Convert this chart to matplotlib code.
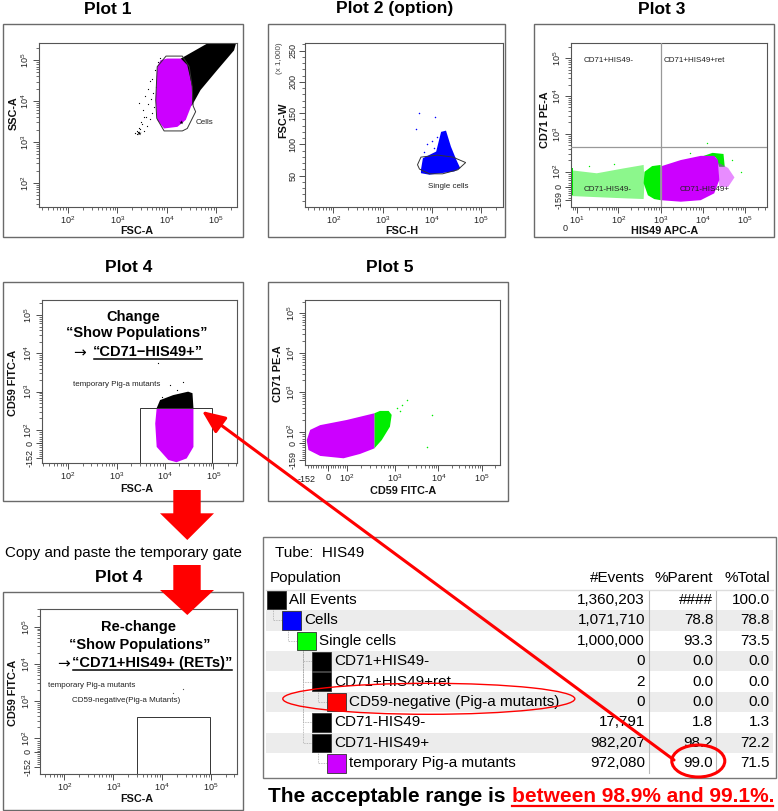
import numpy as np
import matplotlib
matplotlib.use("Agg")
import matplotlib.pyplot as plt
from matplotlib.patches import Polygon, Rectangle, Ellipse, FancyArrowPatch, ArrowStyle

plt.rcParams['font.family'] = ['Liberation Sans', 'DejaVu Sans']
plt.rcParams['mathtext.fontset'] = 'custom'
plt.rcParams['mathtext.rm'] = 'Liberation Sans'
plt.rcParams['mathtext.it'] = 'Liberation Sans:italic'
plt.rcParams['mathtext.bf'] = 'Liberation Sans:bold'

MAGENTA = '#CC00FF'
GREEN = '#00EE00'
BLUE = '#0000FF'
RED = '#FF0000'

# ======================= DATA =======================
# Plot 1 : FSC-A vs SSC-A (display units = log10 decades)
p1_black_x = [4.29, 4.83, 5.41, 5.37, 5.03, 4.69, 4.52, 4.29]
p1_black_y = [5.04, 5.41, 5.41, 5.24, 4.76, 4.27, 3.90, 3.78]
p1_mag_x = [3.81, 3.88, 4.01, 4.29, 4.42, 4.52, 4.52, 4.39, 4.22, 3.95, 3.81, 3.78]
p1_mag_y = [4.84, 5.00, 5.04, 5.04, 4.88, 4.35, 3.94, 3.54, 3.37, 3.33, 3.54, 4.02]
p1_gate_x = [3.99, 4.32, 4.46, 4.52, 4.54, 4.59, 4.42, 4.32, 3.95, 3.80, 3.78, 3.81]
p1_gate_y = [5.10, 5.10, 4.84, 4.35, 3.88, 3.74, 3.33, 3.27, 3.27, 3.58, 4.02, 4.84]
p1_sparse_x = [3.42, 3.47, 3.55, 3.50, 3.60, 3.66, 3.58, 3.70, 3.75, 3.63, 3.52, 3.68, 3.73, 3.79,
               3.45, 3.40, 3.57, 3.62, 3.71, 3.77, 3.66, 3.54, 3.49, 3.83, 3.86, 3.81, 3.36, 3.39, 3.44]
p1_sparse_y = [3.25, 3.31, 3.28, 3.45, 3.40, 3.55, 3.62, 3.70, 3.85, 3.92, 3.78, 4.05, 4.20, 4.35,
               3.95, 3.20, 4.12, 4.30, 4.55, 4.75, 4.48, 3.60, 3.50, 4.95, 5.05, 4.62, 3.22, 3.27, 3.35]
p1_star_x = [3.44, 4.29]
p1_star_y = [3.22, 3.50]

# Plot 2 : FSC-H (log) vs FSC-W (x1,000)
p2_blue_x = [3.78, 3.82, 4.09, 4.19, 4.29, 4.39, 4.50, 4.58, 4.46, 3.95, 3.78]
p2_blue_y = [59.5, 78.0, 88.6, 120.0, 122.0, 96.5, 75.4, 62.0, 56.8, 51.6, 54.0]
p2_gate_x = [3.71, 3.78, 4.12, 4.43, 4.69, 4.53, 4.22, 3.95, 3.75]
p2_gate_y = [67.5, 79.7, 82.9, 79.7, 71.0, 59.5, 53.0, 53.0, 60.6]
p2_sparse_x = [3.75, 4.07, 3.67, 3.90, 4.00, 3.85, 4.10, 4.04]
p2_sparse_y = [149.5, 144.0, 124.0, 100.0, 105.0, 88.0, 112.0, 95.0]

# Plot 3 : HIS49 APC-A vs CD71 PE-A
p3_tail_x = [0.88, 1.49, 2.13, 2.60, 2.62, 2.60, 2.13, 1.49, 0.88]
p3_tail_y = [2.04, 1.96, 2.09, 2.18, 1.70, 1.28, 1.30, 1.33, 1.36]
p3_edge_x = [0.88, 0.93, 0.93, 0.88]
p3_edge_y = [2.10, 2.10, 1.40, 1.40]
p3_green_x = [2.62, 2.80, 3.00, 3.00, 2.85, 2.70, 2.60]
p3_green_y = [2.00, 2.15, 2.18, 1.25, 1.28, 1.38, 1.70]
p3_gfringe_x = [3.92, 4.23, 4.49, 4.52, 4.39, 4.31]
p3_gfringe_y = [2.38, 2.50, 2.47, 2.13, 2.13, 2.38]
p3_mfringe_x = [4.36, 4.60, 4.75, 4.60, 4.39]
p3_mfringe_y = [2.25, 2.10, 1.85, 1.60, 1.60]
p3_mag_x = [3.00, 3.48, 3.95, 4.27, 4.36, 4.39, 4.27, 3.95, 3.48, 3.00]
p3_mag_y = [2.14, 2.31, 2.42, 2.42, 2.31, 1.78, 1.43, 1.25, 1.21, 1.25]
p3_sparse_x = [4.10, 4.70, 4.90, 3.70, 1.30, 1.90]
p3_sparse_y = [2.75, 2.30, 2.00, 2.50, 2.15, 2.20]
p3_quad_x = 3.0
p3_quad_y = 2.65
p3_labels = ["CD71+HIS49-", "CD71+HIS49+ret", "CD71-HIS49-", "CD71-HIS49+"]
p3_label_x = [1.17, 3.08, 1.17, 3.45]
p3_label_y = [4.95, 4.95, 1.52, 1.52]

# Plot 4 : FSC-A vs CD59 FITC-A
p4_black_x = [3.83, 3.90, 4.17, 4.48, 4.57, 4.59]
p4_black_y = [2.57, 2.78, 2.91, 3.00, 2.96, 2.57]
p4_mag_x = [3.83, 4.59, 4.59, 4.45, 4.24, 4.07, 3.83, 3.80]
p4_mag_y = [2.57, 2.57, 1.56, 1.26, 1.16, 1.22, 1.56, 2.17]
p4_sparse_x = [4.38, 4.10, 3.86, 4.25, 3.95]
p4_sparse_y = [3.26, 3.17, 3.74, 3.05, 2.85]
gate_x = [3.48, 4.98]
gate_y = [1.0, 2.57]

# Plot 5 : CD59 FITC-A vs CD71 PE-A
p5_mag_x = [0.96, 1.04, 1.27, 1.88, 2.52, 2.52, 2.19, 1.81, 1.27, 1.00]
p5_mag_y = [1.79, 2.05, 2.17, 2.30, 2.47, 1.58, 1.44, 1.33, 1.39, 1.54]
p5_green_x = [2.52, 2.65, 2.85, 2.92, 2.88, 2.69, 2.52]
p5_green_y = [2.47, 2.53, 2.53, 2.43, 2.13, 1.79, 1.58]
p5_sparse_x = [3.15, 3.27, 3.11, 3.85, 3.73, 3.05]
p5_sparse_y = [2.68, 2.81, 2.53, 2.43, 1.62, 2.60]

# Plot 4 (re-change)
p6_sparse_x = [4.22, 4.43]
p6_sparse_y = [3.21, 3.32]

# Table
tube_name = "Tube:  HIS49"
tbl_header = ["Population", "#Events", "%Parent", "%Total"]
tbl_pop = ["All Events", "Cells", "Single cells", "CD71+HIS49-", "CD71+HIS49+ret",
           "CD59-negative (Pig-a mutants)", "CD71-HIS49-", "CD71-HIS49+", "temporary Pig-a mutants"]
tbl_level = [0, 1, 2, 3, 3, 4, 3, 3, 4]
tbl_parent_idx = [None, 0, 1, 2, 2, 4, 2, 2, 7]
tbl_color = ['black', BLUE, '#00FF00', 'black', 'black', RED, 'black', 'black', MAGENTA]
tbl_events = ["1,360,203", "1,071,710", "1,000,000", "0", "2", "0", "17,791", "982,207", "972,080"]
tbl_parent = ["####", "78.8", "93.3", "0.0", "0.0", "0.0", "1.8", "98.2", "99.0"]
tbl_total = ["100.0", "78.8", "73.5", "0.0", "0.0", "0.0", "1.3", "72.2", "71.5"]

# ======================= LAYOUT =======================
W, H = 778, 811
fig = plt.figure(figsize=(W / 100, H / 100), dpi=100)
fig.patch.set_facecolor('white')


def rect(x0, y0, x1, y1):
    return [x0 / W, 1 - y1 / H, (x1 - x0) / W, (y1 - y0) / H]


def decade_minors(dec_pos, lim, extend_low=True):
    d = float(np.mean(np.diff(dec_pos)))
    pts = ([dec_pos[0] - d] if extend_low else []) + list(dec_pos) + [dec_pos[-1] + d]
    out = []
    for a, b in zip(pts[:-1], pts[1:]):
        for k in range(2, 10):
            p = a + np.log10(k) * (b - a)
            if lim[0] <= p <= lim[1]:
                out.append(p)
    return out


def dec_label(n):
    return r'$10^{%d}$' % n


def style_axes(ax, xlim, ylim, xt, xl, yt, yl, xminor, yminor):
    ax.set_xlim(*xlim)
    ax.set_ylim(*ylim)
    ax.set_xticks(xt)
    ax.set_xticklabels(xl)
    ax.set_yticks(yt)
    ax.set_yticklabels(yl)
    ax.set_xticks(xminor, minor=True)
    ax.set_yticks(yminor, minor=True)
    ax.tick_params(which='major', direction='out', length=4, width=0.6, color='#333',
                   labelsize=6.5, labelcolor='#222', pad=1.5)
    ax.tick_params(which='minor', direction='out', length=2.5, width=0.5, color='#333')
    for t in ax.get_yticklabels():
        t.set_rotation(90)
        t.set_va('center')
    for s in ax.spines.values():
        s.set_linewidth(0.8)
        s.set_color('#555')


def poly(ax, xs, ys, fc, alpha=1.0, z=2):
    ax.add_patch(Polygon(np.column_stack([xs, ys]), closed=True, fc=fc, ec='none', alpha=alpha, zorder=z))


def gate(ax, xs, ys, lw=0.7):
    ax.add_patch(Polygon(np.column_stack([xs, ys]), closed=True, fill=False, ec='#333', lw=lw, zorder=5))


small = dict(fontsize=5.8, color='#222')

# ---- Plot 1
ax1 = fig.add_axes(rect(39, 43, 237, 207))
lim1x, lim1y = (1.41, 5.43), (1.41, 5.42)
style_axes(ax1, lim1x, lim1y, [2, 3, 4, 5], [dec_label(n) for n in [2, 3, 4, 5]],
           [2, 3, 4, 5], [dec_label(n) for n in [2, 3, 4, 5]],
           decade_minors([2, 3, 4, 5], lim1x), decade_minors([2, 3, 4, 5], lim1y))
ax1.scatter(p1_sparse_x, p1_sparse_y, s=0.8, c='black', lw=0, zorder=2)
poly(ax1, p1_black_x, p1_black_y, 'black')
poly(ax1, p1_mag_x, p1_mag_y, MAGENTA, z=3)
ax1.scatter(p1_star_x, p1_star_y, s=10, c='black', marker='*', lw=0, zorder=4)
gate(ax1, p1_gate_x, p1_gate_y)
ax1.text(4.60, 3.47, "Cells", ha='left', va='center', **small)

# ---- Plot 2
ax2 = fig.add_axes(rect(305, 43, 503, 207))
lim2x, lim2y = (1.42, 5.45), (0, 262)
style_axes(ax2, lim2x, lim2y, [2, 3, 4, 5], [dec_label(n) for n in [2, 3, 4, 5]],
           [50, 100, 150, 200, 250], ["50", "100", "150", "200", "250"],
           decade_minors([2, 3, 4, 5], lim2x), list(range(10, 261, 10)))
poly(ax2, p2_blue_x, p2_blue_y, BLUE)
ax2.scatter(p2_sparse_x, p2_sparse_y, s=1.2, c=BLUE, lw=0, zorder=2)
gate(ax2, p2_gate_x, p2_gate_y)
ax2.text(3.92, 33, "Single cells", ha='left', va='center', **small)

# ---- Plot 3
ax3 = fig.add_axes(rect(571, 43, 767, 207))
lim3x, lim3y = (0.88, 5.52), (1.07, 5.40)
style_axes(ax3, lim3x, lim3y, [1.02, 2, 3, 4, 5], [dec_label(n) for n in [1, 2, 3, 4, 5]],
           [1.25, 1.60, 2, 3, 4, 5], ["-159", "0"] + [dec_label(n) for n in [2, 3, 4, 5]],
           decade_minors([1.02, 2, 3, 4, 5], lim3x),
           decade_minors([2, 3, 4, 5], lim3y, extend_low=False) + list(np.linspace(1.32, 1.94, 12)))
poly(ax3, p3_tail_x, p3_tail_y, GREEN, alpha=0.45)
poly(ax3, p3_edge_x, p3_edge_y, GREEN)
poly(ax3, p3_green_x, p3_green_y, GREEN)
poly(ax3, p3_gfringe_x, p3_gfringe_y, GREEN)
poly(ax3, p3_mfringe_x, p3_mfringe_y, MAGENTA, alpha=0.45)
poly(ax3, p3_mag_x, p3_mag_y, MAGENTA, z=3)
ax3.scatter(p3_sparse_x, p3_sparse_y, s=1.0, c=GREEN, lw=0, zorder=2)
ax3.axvline(p3_quad_x, color='#999', lw=0.9, zorder=4)
ax3.axhline(p3_quad_y, color='#999', lw=0.9, zorder=4)
for s, x, y in zip(p3_labels, p3_label_x, p3_label_y):
    ax3.text(x, y, s, ha='left', va='center', zorder=6, **small)
ax3.text(0.74, -0.105, "0", transform=ax3.get_xaxis_transform(), ha='center', va='top',
         fontsize=6.5, color='#222')

# ---- Plot 4
ax4 = fig.add_axes(rect(42, 300, 237, 463))
lim4x, lim4y = (1.46, 5.49), (1.14, 5.39)
style_axes(ax4, lim4x, lim4y, [2, 3, 4, 5], [dec_label(n) for n in [2, 3, 4, 5]],
           [1.26, 1.65, 2, 3, 4, 5], ["-152", "0"] + [dec_label(n) for n in [2, 3, 4, 5]],
           decade_minors([2, 3, 4, 5], lim4x),
           decade_minors([2, 3, 4, 5], lim4y, extend_low=False) + list(np.linspace(1.32, 1.94, 12)))
poly(ax4, p4_black_x, p4_black_y, 'black')
poly(ax4, p4_mag_x, p4_mag_y, MAGENTA, z=3)
ax4.scatter(p4_sparse_x, p4_sparse_y, s=0.8, c='black', lw=0, zorder=2)
ax4.add_patch(Rectangle((gate_x[0], gate_y[0]), gate_x[1] - gate_x[0], gate_y[1] - gate_y[0],
                        fill=False, ec='#333', lw=0.7, zorder=5))
ax4.text(2.10, 3.19, "temporary Pig-a mutants", ha='left', va='center', **small)

# ---- Plot 5
ax5 = fig.add_axes(rect(305, 300, 500, 465))
lim5x, lim5y = (0.92, 5.42), (1.16, 5.34)
style_axes(ax5, lim5x, lim5y, [1.46, 1.885, 3, 4, 5], ["0"] + [dec_label(n) for n in [2, 3, 4, 5]],
           [1.28, 1.71, 2, 3, 4, 5], ["-159", "0"] + [dec_label(n) for n in [2, 3, 4, 5]],
           decade_minors([1.885, 3, 4, 5], lim5x, extend_low=False) + list(np.linspace(1.0, 1.85, 16)),
           decade_minors([2, 3, 4, 5], lim5y, extend_low=False) + list(np.linspace(1.33, 1.94, 12)))
poly(ax5, p5_green_x, p5_green_y, GREEN)
poly(ax5, p5_mag_x, p5_mag_y, MAGENTA, z=3)
ax5.scatter(p5_sparse_x, p5_sparse_y, s=1.2, c=GREEN, lw=0, zorder=2)
ax5.text(0.96, -0.06, "-152", transform=ax5.get_xaxis_transform(), ha='center', va='top',
         fontsize=6.5, color='#222')

# ---- Plot 4 (re-change)
ax6 = fig.add_axes(rect(40, 609, 237, 774))
lim6x, lim6y = (1.50, 5.53), (1.04, 5.48)
style_axes(ax6, lim6x, lim6y, [2, 3, 4, 5], [dec_label(n) for n in [2, 3, 4, 5]],
           [1.24, 1.64, 2, 3, 4, 5], ["-152", "0"] + [dec_label(n) for n in [2, 3, 4, 5]],
           decade_minors([2, 3, 4, 5], lim6x),
           decade_minors([2, 3, 4, 5], lim6y, extend_low=False) + list(np.linspace(1.30, 1.94, 12)))
ax6.scatter(p6_sparse_x, p6_sparse_y, s=0.8, c='#555', lw=0, zorder=2)
ax6.add_patch(Rectangle((gate_x[0], gate_y[0]), gate_x[1] - gate_x[0], gate_y[1] - gate_y[0],
                        fill=False, ec='#333', lw=0.7, zorder=5))
ax6.text(1.67, 3.43, "temporary Pig-a mutants", ha='left', va='center', **small)
ax6.text(2.15, 3.01, "CD59-negative(Pig-a Mutants)", ha='left', va='center', **small)

# ======================= OVERLAY (pixel coords) =======================
ov = fig.add_axes([0, 0, 1, 1])
ov.set_xlim(0, W)
ov.set_ylim(H, 0)
ov.axis('off')

frames = [(3.3, 24.3, 242.7, 236.7), (268.3, 24.3, 505, 236.7), (534, 24.3, 774.3, 236.7),
          (3.3, 281.7, 242.7, 500.7), (268.3, 281.7, 508.3, 500.7), (3.3, 591.7, 243.3, 809.5)]
for x0, y0, x1, y1 in frames:
    ov.add_patch(Rectangle((x0, y0), x1 - x0, y1 - y0, fill=False, ec='#6a6a6a', lw=1.0, zorder=1))

titles = [("Plot 1", 108, 9), ("Plot 2 (option)", 395, 9), ("Plot 3", 661.7, 9),
          ("Plot 4", 129, 267), ("Plot 5", 390, 267), ("Plot 4", 119, 577)]
for s, x, y in titles:
    ov.text(x, y, s, ha='center', va='center', fontsize=12.5, fontweight='bold')

lab = dict(fontsize=7.8, fontweight='bold', ha='center', va='center', color='#111')
xlabels = [("FSC-A", 136.7, 231), ("FSC-H", 401.7, 231), ("HIS49 APC-A", 665, 231.5),
           ("FSC-A", 136.7, 489), ("CD59 FITC-A", 403.3, 490.5), ("FSC-A", 136.7, 798.8)]
ylabels = [("SSC-A", 13.3, 113.3), ("FSC-W", 283.3, 120), ("CD71 PE-A", 545, 120),
           ("CD59 FITC-A", 13.3, 383.3), ("CD71 PE-A", 278.3, 373.3), ("CD59 FITC-A", 13.3, 693.3)]
for s, x, y in xlabels:
    ov.text(x, y, s, **lab)
for s, x, y in ylabels:
    ov.text(x, y, s, rotation=90, **lab)
ov.text(280, 58, "(x 1,000)", rotation=90, ha='center', va='center', fontsize=5.8, color='#444')

# red down arrows
for top, hs, tip in [(490, 513.3, 540), (565, 590, 615)]:
    pts = [(173.3, top), (200.7, top), (200.7, hs), (214, hs), (187.3, tip), (160, hs), (173.3, hs)]
    ov.add_patch(Polygon(pts, closed=True, fc=RED, ec='none', zorder=8))

ov.text(123, 553, "Copy and paste the temporary gate", ha='center', va='center', fontsize=10.9)

# instruction texts inside plot 4 panels
instr = dict(fontsize=10.5, fontweight='bold', ha='center', va='center', zorder=7)
arrow_kw = dict(fontsize=11, ha='center', va='center', zorder=7, family=['DejaVu Sans'])
ov.text(133, 316.7, "Change", **instr)
ov.text(136.7, 333.3, "\u201cShow Populations\u201d", **instr)
ov.text(80, 352.5, "\u2192", **arrow_kw)
u1 = ov.text(148.3, 351.7, "\u201cCD71\u2212HIS49+\u201d", **instr)
ov.text(138.3, 626.7, "Re-change", **instr)
ov.text(140, 645, "\u201cShow Populations\u201d", **instr)
ov.text(63.5, 664, "\u2192", **arrow_kw)
u2 = ov.text(152.5, 663.3, "\u201cCD71+HIS49+ (RETs)\u201d", **instr)

# ---- table
tx0, tx1, ty0, ty1 = 262.7, 776, 537, 778.3
ov.add_patch(Rectangle((tx0, ty0), tx1 - tx0, ty1 - ty0, fill=False, ec='#777', lw=1.0, zorder=1))
tfs = 11
ov.text(275, 553, tube_name, ha='left', va='center', fontsize=tfs)
ov.text(270, 578, tbl_header[0], ha='left', va='center', fontsize=tfs)
ov.text(645, 578, tbl_header[1], ha='right', va='center', fontsize=tfs)
ov.text(713.3, 578, tbl_header[2], ha='right', va='center', fontsize=tfs)
ov.text(770, 578, tbl_header[3], ha='right', va='center', fontsize=tfs)
ov.plot([266, 773], [589.5, 589.5], color='#DDDDDD', lw=1.0, zorder=1)

row0, rowh, sq = 600.0, 20.4, 18.6
rows_y = [row0 + i * rowh for i in range(len(tbl_pop))]
for i, yc in enumerate(rows_y):
    if i % 2 == 1:
        ov.add_patch(Rectangle((266, yc - rowh / 2), 507, rowh, fc='#ECECEC', ec='none', zorder=0.5))
for x in [649.3, 716]:
    ov.plot([x, x], [590.5, 773], color='#BBBBBB', lw=0.8, zorder=1)

for i, yc in enumerate(rows_y):
    lvl = tbl_level[i]
    sx = 267.3 + 15 * lvl
    p = tbl_parent_idx[i]
    if p is not None:
        vx = 267.3 + 15 * tbl_level[p] + 6
        ov.plot([vx, vx, sx], [rows_y[p] + sq / 2, yc, yc], color='#AAAAAA', lw=0.6,
                ls=(0, (1, 1)), zorder=1)
for i, yc in enumerate(rows_y):
    sx = 267.3 + 15 * tbl_level[i]
    ov.add_patch(Rectangle((sx, yc - sq / 2), sq, sq, fc=tbl_color[i], ec='#333', lw=0.6, zorder=2))
    ov.text(sx + 22, yc, tbl_pop[i], ha='left', va='center', fontsize=tfs, zorder=3)
    ov.text(645, yc, tbl_events[i], ha='right', va='center', fontsize=tfs, zorder=3)
    ov.text(713.3, yc, tbl_parent[i], ha='right', va='center', fontsize=tfs, zorder=3)
    ov.text(770, yc, tbl_total[i], ha='right', va='center', fontsize=tfs, zorder=3)

ov.add_patch(Ellipse((428.8, 698.8), 292, 31, fill=False, ec=RED, lw=1.0, zorder=9))
ov.add_patch(Ellipse((698.3, 761), 53, 32, fill=False, ec=RED, lw=2.2, zorder=9))

# bottom statement
b1 = ov.text(268.3, 796.7, "The acceptable range is ", ha='left', va='center', fontsize=15,
             fontweight='bold')

# ---- measure and finish underlined pieces
fig.canvas.draw()
r = fig.canvas.get_renderer()
inv = ov.transData.inverted()


def ext(t):
    bb = t.get_window_extent(renderer=r)
    (x0, ya), (x1, yb) = inv.transform([[bb.x0, bb.y0], [bb.x1, bb.y1]])
    return x0, x1, min(ya, yb), max(ya, yb)


e = ext(b1)
b2 = ov.text(e[1], 796.7, "between 98.9% and 99.1%.", ha='left', va='center', fontsize=15,
             fontweight='bold', color=RED)
fig.canvas.draw()
e2 = ext(b2)
ov.plot([e2[0], e2[1] - 1], [806, 806], color=RED, lw=1.6, zorder=9)
e = ext(u1)
ov.plot([e[0] + 1, e[1] - 1], [358.5, 358.5], color='black', lw=1.1, zorder=7)
e = ext(u2)
ov.plot([e[0] + 1, e[1] - 1], [670.3, 670.3], color='black', lw=1.1, zorder=7)

# diagonal red arrow
ov.add_patch(FancyArrowPatch((674, 760), (202, 411),
                             arrowstyle=ArrowStyle('-|>', head_length=0.7, head_width=0.3),
                             mutation_scale=20, color=RED, lw=2.2, shrinkA=0, shrinkB=0, zorder=10))

fig.savefig("out.png", dpi=100)
